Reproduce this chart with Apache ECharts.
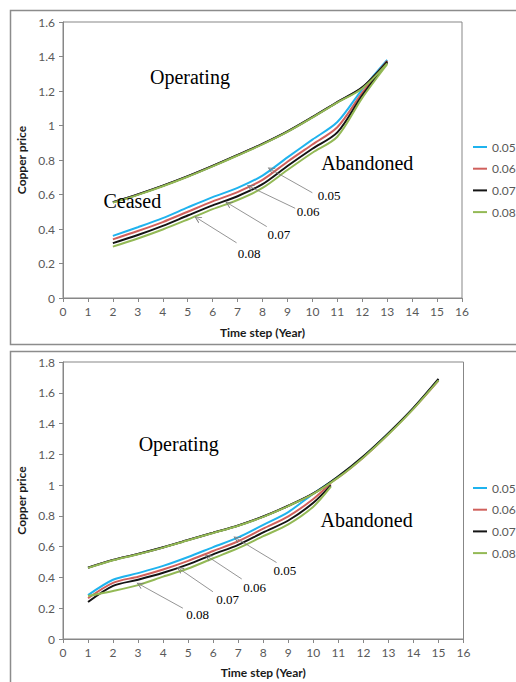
<!DOCTYPE html>
<html>
<head>
<meta charset="utf-8">
<script src="https://cdn.jsdelivr.net/npm/echarts@6/dist/echarts.min.js"></script>
<style>
html, body { margin: 0; padding: 0; background: #fff; }
#chart { width: 516px; height: 682px; }
</style>
</head>
<body>
<div id="chart"></div>
<script>
// rates shown in the legend
var rates = ['0.05', '0.06', '0.07', '0.08'];
var colors = ['#1fb3ee', '#d0605c', '#141414', '#93b955'];

// top panel: years 2..13
var yearsTop = [2, 3, 4, 5, 6, 7, 8, 9, 10, 11, 12, 13];
var upTop05 = [0.555, 0.600, 0.650, 0.705, 0.765, 0.828, 0.893, 0.965, 1.048, 1.135, 1.220, 1.372];
var upTop06 = [0.555, 0.600, 0.650, 0.705, 0.765, 0.828, 0.893, 0.965, 1.048, 1.135, 1.220, 1.372];
var upTop07 = [0.556, 0.601, 0.651, 0.706, 0.766, 0.829, 0.894, 0.966, 1.049, 1.136, 1.221, 1.370];
var upTop08 = [0.553, 0.598, 0.648, 0.703, 0.763, 0.826, 0.891, 0.963, 1.046, 1.133, 1.215, 1.360];
var lowTop05 = [0.360, 0.410, 0.463, 0.525, 0.585, 0.638, 0.710, 0.815, 0.918, 1.020, 1.210, 1.380];
var lowTop06 = [0.340, 0.388, 0.440, 0.500, 0.560, 0.614, 0.685, 0.790, 0.890, 0.990, 1.190, 1.375];
var lowTop07 = [0.318, 0.365, 0.418, 0.478, 0.537, 0.590, 0.660, 0.765, 0.865, 0.960, 1.175, 1.365];
var lowTop08 = [0.298, 0.345, 0.397, 0.455, 0.515, 0.568, 0.638, 0.742, 0.842, 0.935, 1.160, 1.355];

// bottom panel: years 1..15 (upper), lower curves stop where they join
var yearsBot = [1, 2, 3, 4, 5, 6, 7, 8, 9, 10, 11, 12, 13, 14, 15];
var upBot05 = [0.463, 0.513, 0.552, 0.595, 0.643, 0.690, 0.737, 0.795, 0.865, 0.945, 1.055, 1.185, 1.335, 1.500, 1.685];
var upBot06 = [0.463, 0.513, 0.552, 0.595, 0.643, 0.690, 0.737, 0.795, 0.865, 0.945, 1.050, 1.180, 1.332, 1.498, 1.680];
var upBot07 = [0.464, 0.514, 0.553, 0.596, 0.644, 0.691, 0.738, 0.796, 0.866, 0.946, 1.058, 1.188, 1.338, 1.502, 1.690];
var upBot08 = [0.462, 0.512, 0.551, 0.594, 0.642, 0.689, 0.736, 0.794, 0.864, 0.943, 1.050, 1.180, 1.330, 1.495, 1.680];
var yearsBotLow = [1, 2, 3, 4, 5, 6, 7, 8, 9, 10, 10.7];
var lowBot05 = [0.285, 0.385, 0.428, 0.475, 0.533, 0.597, 0.660, 0.742, 0.825, 0.945, 1.020];
var lowBot06 = [0.265, 0.365, 0.405, 0.452, 0.508, 0.572, 0.635, 0.717, 0.797, 0.910, 1.012];
var lowBot07 = [0.240, 0.345, 0.385, 0.430, 0.485, 0.550, 0.612, 0.693, 0.770, 0.885, 0.998];
var lowBot08 = [0.280, 0.312, 0.350, 0.405, 0.458, 0.525, 0.590, 0.668, 0.745, 0.860, 0.990];

// annotation texts [text, x, y, size] and arrows [x1, y1, x2, y2] in data units
var notesTop = [
    ['Operating', 5.09, 1.28, 20], ['Ceased', 2.78, 0.564, 20], ['Abandoned', 12.2, 0.78, 20],
    ['0.05', 10.67, 0.597, 13], ['0.06', 9.83, 0.499, 13], ['0.07', 8.66, 0.366, 13], ['0.08', 7.46, 0.256, 13]
];
var arrowsTop = [
    [10.0, 0.61, 8.33, 0.746], [9.31, 0.52, 7.5, 0.645], [8.17, 0.414, 6.63, 0.548], [6.96, 0.32, 5.39, 0.462]
];
var notesBot = [
    ['Operating', 4.62, 1.266, 20], ['Abandoned', 12.13, 0.773, 20],
    ['0.05', 8.86, 0.443, 13], ['0.06', 7.66, 0.334, 13], ['0.07', 6.58, 0.258, 13], ['0.08', 5.38, 0.156, 13]
];
var arrowsBot = [
    [8.53, 0.497, 6.93, 0.654], [7.14, 0.39, 5.79, 0.535], [5.99, 0.307, 4.66, 0.455], [4.79, 0.2, 3.06, 0.355]
];

var gray = '#878787';
var tickFont = 'Lato';
var chevron = 'path://M0,10 L5,0 L10,10 L8.6,10 L5,2.8 L1.4,10 Z';

function pairs(xs, ys) {
    return ys.map(function (y, i) { return [xs[i], y]; });
}

function lineSeries(name, xs, ys, color, idx) {
    return {
        name: name,
        type: 'line',
        xAxisIndex: idx,
        yAxisIndex: idx,
        data: pairs(xs, ys),
        symbol: 'none',
        smooth: 0.3,
        lineStyle: {color: color, width: 2},
        itemStyle: {color: color},
        emphasis: {disabled: true},
        silent: true
    };
}

function noteSeries(idx, notes, arrows) {
    return {
        name: 'notes' + idx,
        type: 'line',
        xAxisIndex: idx,
        yAxisIndex: idx,
        data: [],
        silent: true,
        markLine: {
            silent: true,
            animation: false,
            symbol: ['none', chevron],
            symbolSize: 7,
            lineStyle: {color: '#7a7a7a', width: 0.8, type: 'solid'},
            label: {show: false},
            data: arrows.map(function (a) {
                return [{coord: [a[0], a[1]]}, {coord: [a[2], a[3]]}];
            })
        },
        markPoint: {
            silent: true,
            animation: false,
            symbol: 'circle',
            symbolSize: 0,
            data: notes.map(function (n) {
                return {
                    name: n[0],
                    coord: [n[1], n[2]],
                    label: {
                        show: true,
                        position: 'inside',
                        formatter: n[0],
                        fontFamily: 'Liberation Serif',
                        fontSize: n[3],
                        color: '#000'
                    }
                };
            })
        }
    };
}

function xAxis(idx, nameGap) {
    return {
        gridIndex: idx,
        type: 'value',
        min: 0,
        max: 16,
        interval: 1,
        splitLine: {show: false},
        axisLine: {onZero: false, lineStyle: {color: gray}},
        axisTick: {length: 4, lineStyle: {color: gray}},
        axisLabel: {color: '#595959', fontFamily: tickFont, fontSize: 12, margin: 7},
        name: 'Time step (Year)',
        nameLocation: 'middle',
        nameGap: nameGap,
        nameTextStyle: {fontFamily: tickFont, fontWeight: 'bold', fontSize: 12, color: '#1a1a1a'}
    };
}

function yAxis(idx, max) {
    return {
        gridIndex: idx,
        type: 'value',
        min: 0,
        max: max,
        interval: 0.2,
        splitLine: {show: false},
        axisLine: {show: true, lineStyle: {color: gray}},
        axisTick: {show: true, length: 4, lineStyle: {color: gray}},
        axisLabel: {
            color: '#595959', fontFamily: tickFont, fontSize: 12, margin: 8,
            formatter: function (v) { return String(+v.toFixed(1)); }
        },
        name: 'Copper price',
        nameLocation: 'middle',
        nameGap: 30,
        nameTextStyle: {fontFamily: tickFont, fontWeight: 'bold', fontSize: 12, color: '#1a1a1a'}
    };
}

function legend(top) {
    return {
        data: rates,
        orient: 'vertical',
        left: 473,
        top: top,
        padding: 0,
        icon: 'rect',
        itemWidth: 14,
        itemHeight: 2,
        itemGap: 7.7,
        selectedMode: false,
        textStyle: {fontFamily: tickFont, fontSize: 12, color: '#595959', lineHeight: 14}
    };
}

var lowsTop = [lowTop05, lowTop06, lowTop07, lowTop08];
var upsTop = [upTop05, upTop06, upTop07, upTop08];
var lowsBot = [lowBot05, lowBot06, lowBot07, lowBot08];
var upsBot = [upBot05, upBot06, upBot07, upBot08];

var series = [];
rates.forEach(function (r, i) {
    series.push(lineSeries(r, yearsTop, upsTop[i], colors[i], 0));
    series.push(lineSeries(r, yearsTop, lowsTop[i], colors[i], 0));
    series.push(lineSeries(r, yearsBot, upsBot[i], colors[i], 1));
    series.push(lineSeries(r, yearsBotLow, lowsBot[i], colors[i], 1));
});
series.push(noteSeries(0, notesTop, arrowsTop));
series.push(noteSeries(1, notesBot, arrowsBot));

var option = {
    backgroundColor: '#fff',
    animation: false,
    graphic: [
        {type: 'rect', z: -10, shape: {x: 10.5, y: 10.5, width: 520, height: 334},
            style: {fill: 'none', stroke: '#8c8c8c', lineWidth: 1.5}},
        {type: 'rect', z: -10, shape: {x: 10.5, y: 351.5, width: 520, height: 340},
            style: {fill: 'none', stroke: '#8c8c8c', lineWidth: 1.5}}
    ],
    grid: [
        {left: 63, top: 22, width: 399, height: 276, show: true, borderColor: gray, borderWidth: 1},
        {left: 63, top: 362, width: 400.5, height: 277, show: true, borderColor: gray, borderWidth: 1}
    ],
    legend: [legend(140), legend(481)],
    xAxis: [xAxis(0, 28), xAxis(1, 27)],
    yAxis: [yAxis(0, 1.6), yAxis(1, 1.8)],
    series: series
};

var myChart = echarts.init(document.getElementById('chart'), null, {renderer: 'svg'});
myChart.setOption(option);
</script>
</body>
</html>
